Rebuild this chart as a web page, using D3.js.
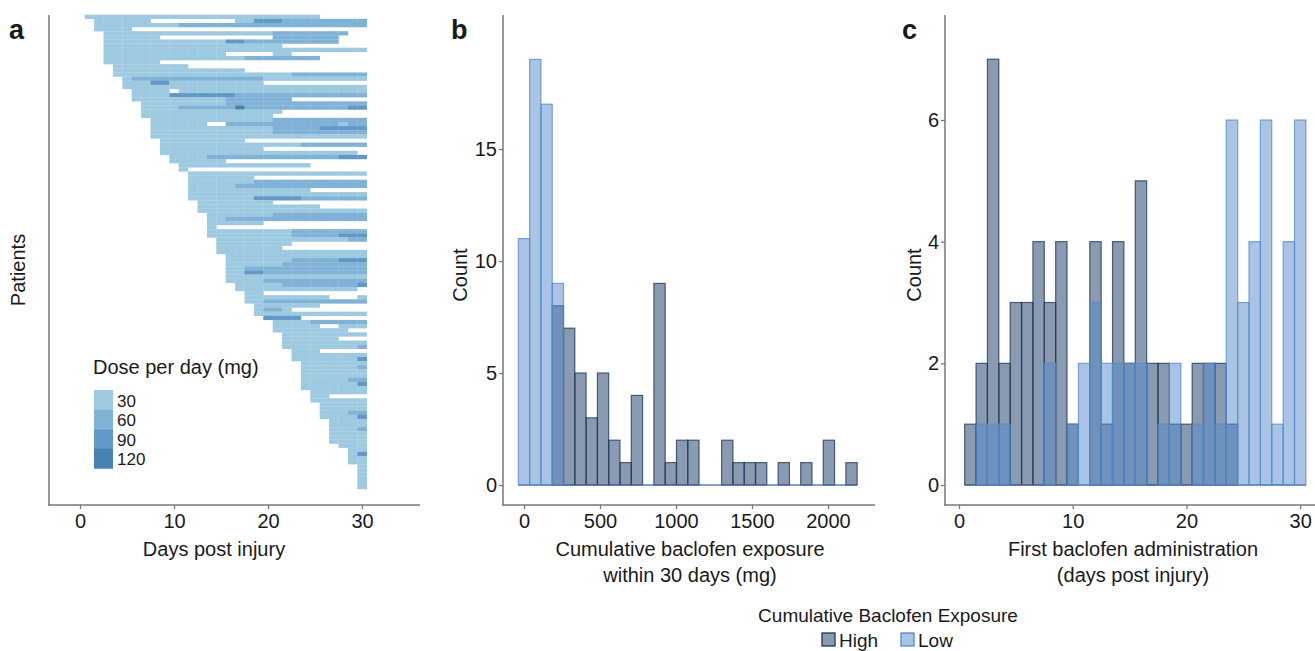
<!DOCTYPE html>
<html>
<head>
<meta charset="utf-8">
<script src="https://cdn.jsdelivr.net/npm/d3@7"></script>
<style>
body { margin: 0; background: #fff; }
svg text { font-family: "Liberation Sans", Arial, sans-serif; fill: #1a1a1a; }
.axis text { font-size: 20px; fill: #1a1a1a; }
.axis line { stroke: #777; stroke-width: 1.3; }
</style>
</head>
<body>
<script>
// panel a: one row per patient, first day of baclofen + runs of "dose*days" (0 = no dose)
var doseLevels = [30, 60, 90, 120];
var doseColors = ["#9ecae1", "#80b1d6", "#6298c8", "#4682b4"];

var patientStart = [1, 2,2,2, 3,3,3,3,3,3,3,3, 4,4,4, 5,5,5, 6,6,6, 7,7,7,7, 8,8,8,8,8,
  9,9,9,9, 10,10, 11,11, 12,12,12,12,12,12,12, 13,13,13, 14,14,14,14,14,14, 15,15,15,15,
  16,16,16,16,16,16,16, 17,17, 18,18,18, 19,19,19, 20, 21,21,21, 22,22,22,22, 23,23,23,
  24,24,24,24,24,24,24, 25,25,25, 26,26,26,26, 27,27,27,27,27,27, 28, 29,29,29,29,
  30,30,30,30,30,30];

var patientDoses = [
  "30*25", "30*6 0*9 30*2 90*3 60*9", "30*9 60*20", "30*4",
  "30*18 60*8", "30*6 0*12 60*7", "30*13 90*2 60*10", "30*19", "30*28", "30*13 0*5 30*2", "30*15 60*8", "30*6",
  "30*8", "30*14", "30*19 60*8",
  "30*1 60*14 30*11", "30*3 90*2 30*10", "30*26",
  "30*4 0*1 30*20", "30*4 90*7 60*14", "30*10 60*7",
  "30*9 60*15", "30*4 60*6 120*1 60*11 90*2", "30*15", "30*14",
  "30*13 60*10", "30*6 0*2 60*12 30*1 60*2", "30*13 60*5 90*5", "30*13 60*10", "30*23",
  "30*9", "30*15 60*7", "30*11", "30*21",
  "30*4 60*14 90*3", "30*6",
  "30*14", "30*1",
  "30*19", "30*7", "30*7 60*12", "30*5 60*14", "30*13", "30*19", "30*7 90*5 60*7",
  "30*8", "30*13", "30*18",
  "30*7 60*10", "30*2 60*15", "30*6", "30*1", "30*9 60*8", "30*9 60*5 90*3",
  "30*14 60*2", "30*8", "30*7", "30*16",
  "30*15", "30*7 60*5 90*3", "30*6 60*9", "30*2 60*13", "30*2 90*2 60*11", "30*15", "30*4 60*11",
  "30*5 60*8 90*1", "30*13",
  "30*2", "30*9 0*3 30*1", "30*2 60*11",
  "30*7", "30*1 60*2 30*1", "30*12",
  "90*4",
  "30*4 60*6", "30*5 0*2 30*3", "30*8",
  "30*9", "30*6", "30*9", "30*8 60*1",
  "30*3", "30*8", "30*7 90*1",
  "30*7", "30*6 60*1", "30*7", "30*7", "30*5 60*2", "30*6 90*1", "30*7",
  "30*6", "30*2", "30*6",
  "30*5", "30*5", "30*3 60*2", "30*4 90*1",
  "30*4", "30*4", "30*3 60*1", "30*4", "30*4", "30*4",
  "30*3",
  "30*2", "30*1 90*1", "30*2", "30*2",
  "30*1", "30*1", "30*1", "30*1", "30*1", "30*1"
];

// panel b: 30 bins of cumulative exposure (mg), bin centres at i * binwidth
var exposureBinWidth = 74.3;
var exposureHigh = [0,0,0,8,7,5,3,5,2,1,4,0,9,1,2,2,0,0,2,1,1,1,0,1,0,1,0,2,0,1];
var exposureLow  = [11,19,17,9,0,0,0,0,0,0,0,0,0,0,0,0,0,0,0,0,0,0,0,0,0,0,0,0,0,0];

// panel c: first administration day 1..30
var firstDays    = d3.range(1, 31);
var firstDayHigh = [1,2,7,2,3,3,4,3,4,1,0,4,1,4,2,5,2,2,1,1,2,2,2,1,0,0,0,0,0,0];
var firstDayLow  = [0,1,1,1,0,0,0,2,0,1,2,3,2,2,2,2,0,1,2,0,1,2,1,6,3,4,6,1,4,6];

var groups = ["High", "Low"];
var groupFill = {High: "#153561", Low: "#5389c9"};
var groupStroke = {High: "#1c355a", Low: "#5389c9"};

var fmt = d3.format("d");

var svg = d3.select("body").append("svg")
    .attr("width", 1315)
    .attr("height", 651);

function axisLine(x1, y1, x2, y2) {
  svg.append("line")
      .attr("x1", x1).attr("y1", y1).attr("x2", x2).attr("y2", y2)
      .attr("stroke", "#777").attr("stroke-width", 1.5);
}

function panelLetter(t, x) {
  svg.append("text").attr("x", x).attr("y", 39)
      .style("font-size", "27px").style("font-weight", "bold").text(t);
}

// ---------- panel a ----------
var xA = d3.scaleLinear().domain([0, 30]).range([80, 362]);
var yA = d3.scaleBand().domain(d3.range(patientStart.length)).range([14.7, 489]);
var colorA = d3.scaleOrdinal().domain(doseLevels).range(doseColors);

var cells = [];
patientDoses.forEach(function(s, i) {
  var day = patientStart[i];
  s.split(" ").forEach(function(run) {
    var p = run.split("*"), dose = +p[0], n = +p[1];
    for (var k = 0; k < n; k++, day++) {
      if (dose > 0 && day <= 30) cells.push({row: i, day: day, dose: dose});
    }
  });
});

svg.append("g").selectAll("rect")
    .data(cells)
  .enter().append("rect")
    .attr("x", function(d) { return xA(d.day - 0.5); })
    .attr("y", function(d) { return yA(d.row); })
    .attr("width", xA(1) - xA(0) + 0.3)
    .attr("height", yA.bandwidth() + 0.2)
    .attr("fill", function(d) { return colorA(d.dose); });

svg.append("g")
    .attr("class", "axis")
    .attr("transform", "translate(0,505)")
    .call(d3.axisBottom(xA).tickValues([0, 10, 20, 30]).tickFormat(fmt).tickSize(4).tickPadding(5).tickSizeOuter(0))
    .select(".domain").remove();
axisLine(49, 15, 49, 505.5);
axisLine(48.3, 505, 420, 505);

svg.append("text").attr("transform", "translate(25,270) rotate(-90)")
    .attr("text-anchor", "middle").style("font-size", "20px").text("Patients");
svg.append("text").attr("x", 214).attr("y", 556)
    .attr("text-anchor", "middle").style("font-size", "20px").text("Days post injury");

// dose legend
svg.append("text").attr("x", 93).attr("y", 374).style("font-size", "20px").text("Dose per day (mg)");
var legA = svg.append("g").selectAll("g")
    .data(doseLevels)
  .enter().append("g")
    .attr("transform", function(d, i) { return "translate(94," + (390 + i * 19.6) + ")"; });
legA.append("rect").attr("width", 19).attr("height", 19.9)
    .attr("fill", function(d) { return colorA(d); });
legA.append("text").attr("x", 23).attr("y", 16.5).style("font-size", "17px")
    .text(function(d) { return d; });

panelLetter("a", 9);

// ---------- histogram helper ----------
function histogram(x, y, bins, binW, series) {
  var g = svg.append("g");
  groups.forEach(function(grp) {
    var counts = series[grp];
    var sg = g.append("g");
    sg.append("line")
        .attr("x1", x(bins[0] - binW / 2)).attr("x2", x(bins[bins.length - 1] + binW / 2))
        .attr("y1", y(0)).attr("y2", y(0))
        .attr("stroke", groupStroke[grp]).attr("stroke-opacity", 0.8).attr("stroke-width", 1.2);
    sg.selectAll("rect")
        .data(bins.map(function(b, i) { return {c: b, n: counts[i]}; }).filter(function(d) { return d.n > 0; }))
      .enter().append("rect")
        .attr("x", function(d) { return x(d.c - binW / 2); })
        .attr("y", function(d) { return y(d.n); })
        .attr("width", function(d) { return x(d.c + binW / 2) - x(d.c - binW / 2); })
        .attr("height", function(d) { return y(0) - y(d.n); })
        .attr("fill", groupFill[grp]).attr("fill-opacity", 0.5)
        .attr("stroke", groupStroke[grp]).attr("stroke-opacity", 0.75).attr("stroke-width", 1.2);
  });
}

// ---------- panel b ----------
var xB = d3.scaleLinear().domain([0, 2000]).range([524, 828]);
var yB = d3.scaleLinear().domain([0, 15]).range([485, 149]);
var exposureBins = d3.range(exposureHigh.length).map(function(i) { return i * exposureBinWidth; });

histogram(xB, yB, exposureBins, exposureBinWidth, {High: exposureHigh, Low: exposureLow});

svg.append("g").attr("class", "axis").attr("transform", "translate(0,505)")
    .call(d3.axisBottom(xB).tickValues([0, 500, 1000, 1500, 2000]).tickFormat(fmt).tickSize(4).tickPadding(5).tickSizeOuter(0))
    .select(".domain").remove();
svg.append("g").attr("class", "axis").attr("transform", "translate(503,0)")
    .call(d3.axisLeft(yB).tickValues([0, 5, 10, 15]).tickFormat(fmt).tickSize(4).tickPadding(2).tickSizeOuter(0))
    .select(".domain").remove();
axisLine(503, 15, 503, 505.5);
axisLine(502.3, 505, 875, 505);

svg.append("text").attr("transform", "translate(467,275) rotate(-90)")
    .attr("text-anchor", "middle").style("font-size", "20px").text("Count");
svg.append("text").attr("x", 690).attr("y", 556).attr("text-anchor", "middle")
    .style("font-size", "20px").text("Cumulative baclofen exposure");
svg.append("text").attr("x", 690).attr("y", 582).attr("text-anchor", "middle")
    .style("font-size", "20px").text("within 30 days (mg)");
panelLetter("b", 451);

// ---------- panel c ----------
var xC = d3.scaleLinear().domain([0, 30]).range([959, 1300.2]);
var yC = d3.scaleLinear().domain([0, 6]).range([485, 120]);

histogram(xC, yC, firstDays, 1, {High: firstDayHigh, Low: firstDayLow});

svg.append("g").attr("class", "axis").attr("transform", "translate(0,505)")
    .call(d3.axisBottom(xC).tickValues([0, 10, 20, 30]).tickFormat(fmt).tickSize(4).tickPadding(5).tickSizeOuter(0))
    .select(".domain").remove();
svg.append("g").attr("class", "axis").attr("transform", "translate(945,0)")
    .call(d3.axisLeft(yC).tickValues([0, 2, 4, 6]).tickFormat(fmt).tickSize(4).tickPadding(2).tickSizeOuter(0))
    .select(".domain").remove();
axisLine(945, 15, 945, 505.5);
axisLine(944.3, 505, 1315, 505);

svg.append("text").attr("transform", "translate(921,275) rotate(-90)")
    .attr("text-anchor", "middle").style("font-size", "20px").text("Count");
svg.append("text").attr("x", 1133).attr("y", 556).attr("text-anchor", "middle")
    .style("font-size", "20px").text("First baclofen administration");
svg.append("text").attr("x", 1133).attr("y", 582).attr("text-anchor", "middle")
    .style("font-size", "20px").text("(days post injury)");
panelLetter("c", 902);

// ---------- group legend ----------
svg.append("text").attr("x", 888).attr("y", 622).attr("text-anchor", "middle")
    .style("font-size", "19px").text("Cumulative Baclofen Exposure");
var legB = svg.append("g").selectAll("g")
    .data(groups)
  .enter().append("g")
    .attr("transform", function(d, i) { return "translate(" + (822 + i * 79) + ",633)"; });
legB.append("rect").attr("width", 13).attr("height", 13)
    .attr("fill", function(d) { return groupFill[d]; }).attr("fill-opacity", 0.5)
    .attr("stroke", function(d) { return groupStroke[d]; }).attr("stroke-width", 1.3);
legB.append("text").attr("x", 17).attr("y", 14).style("font-size", "19px")
    .text(function(d) { return d; });
</script>
</body>
</html>
